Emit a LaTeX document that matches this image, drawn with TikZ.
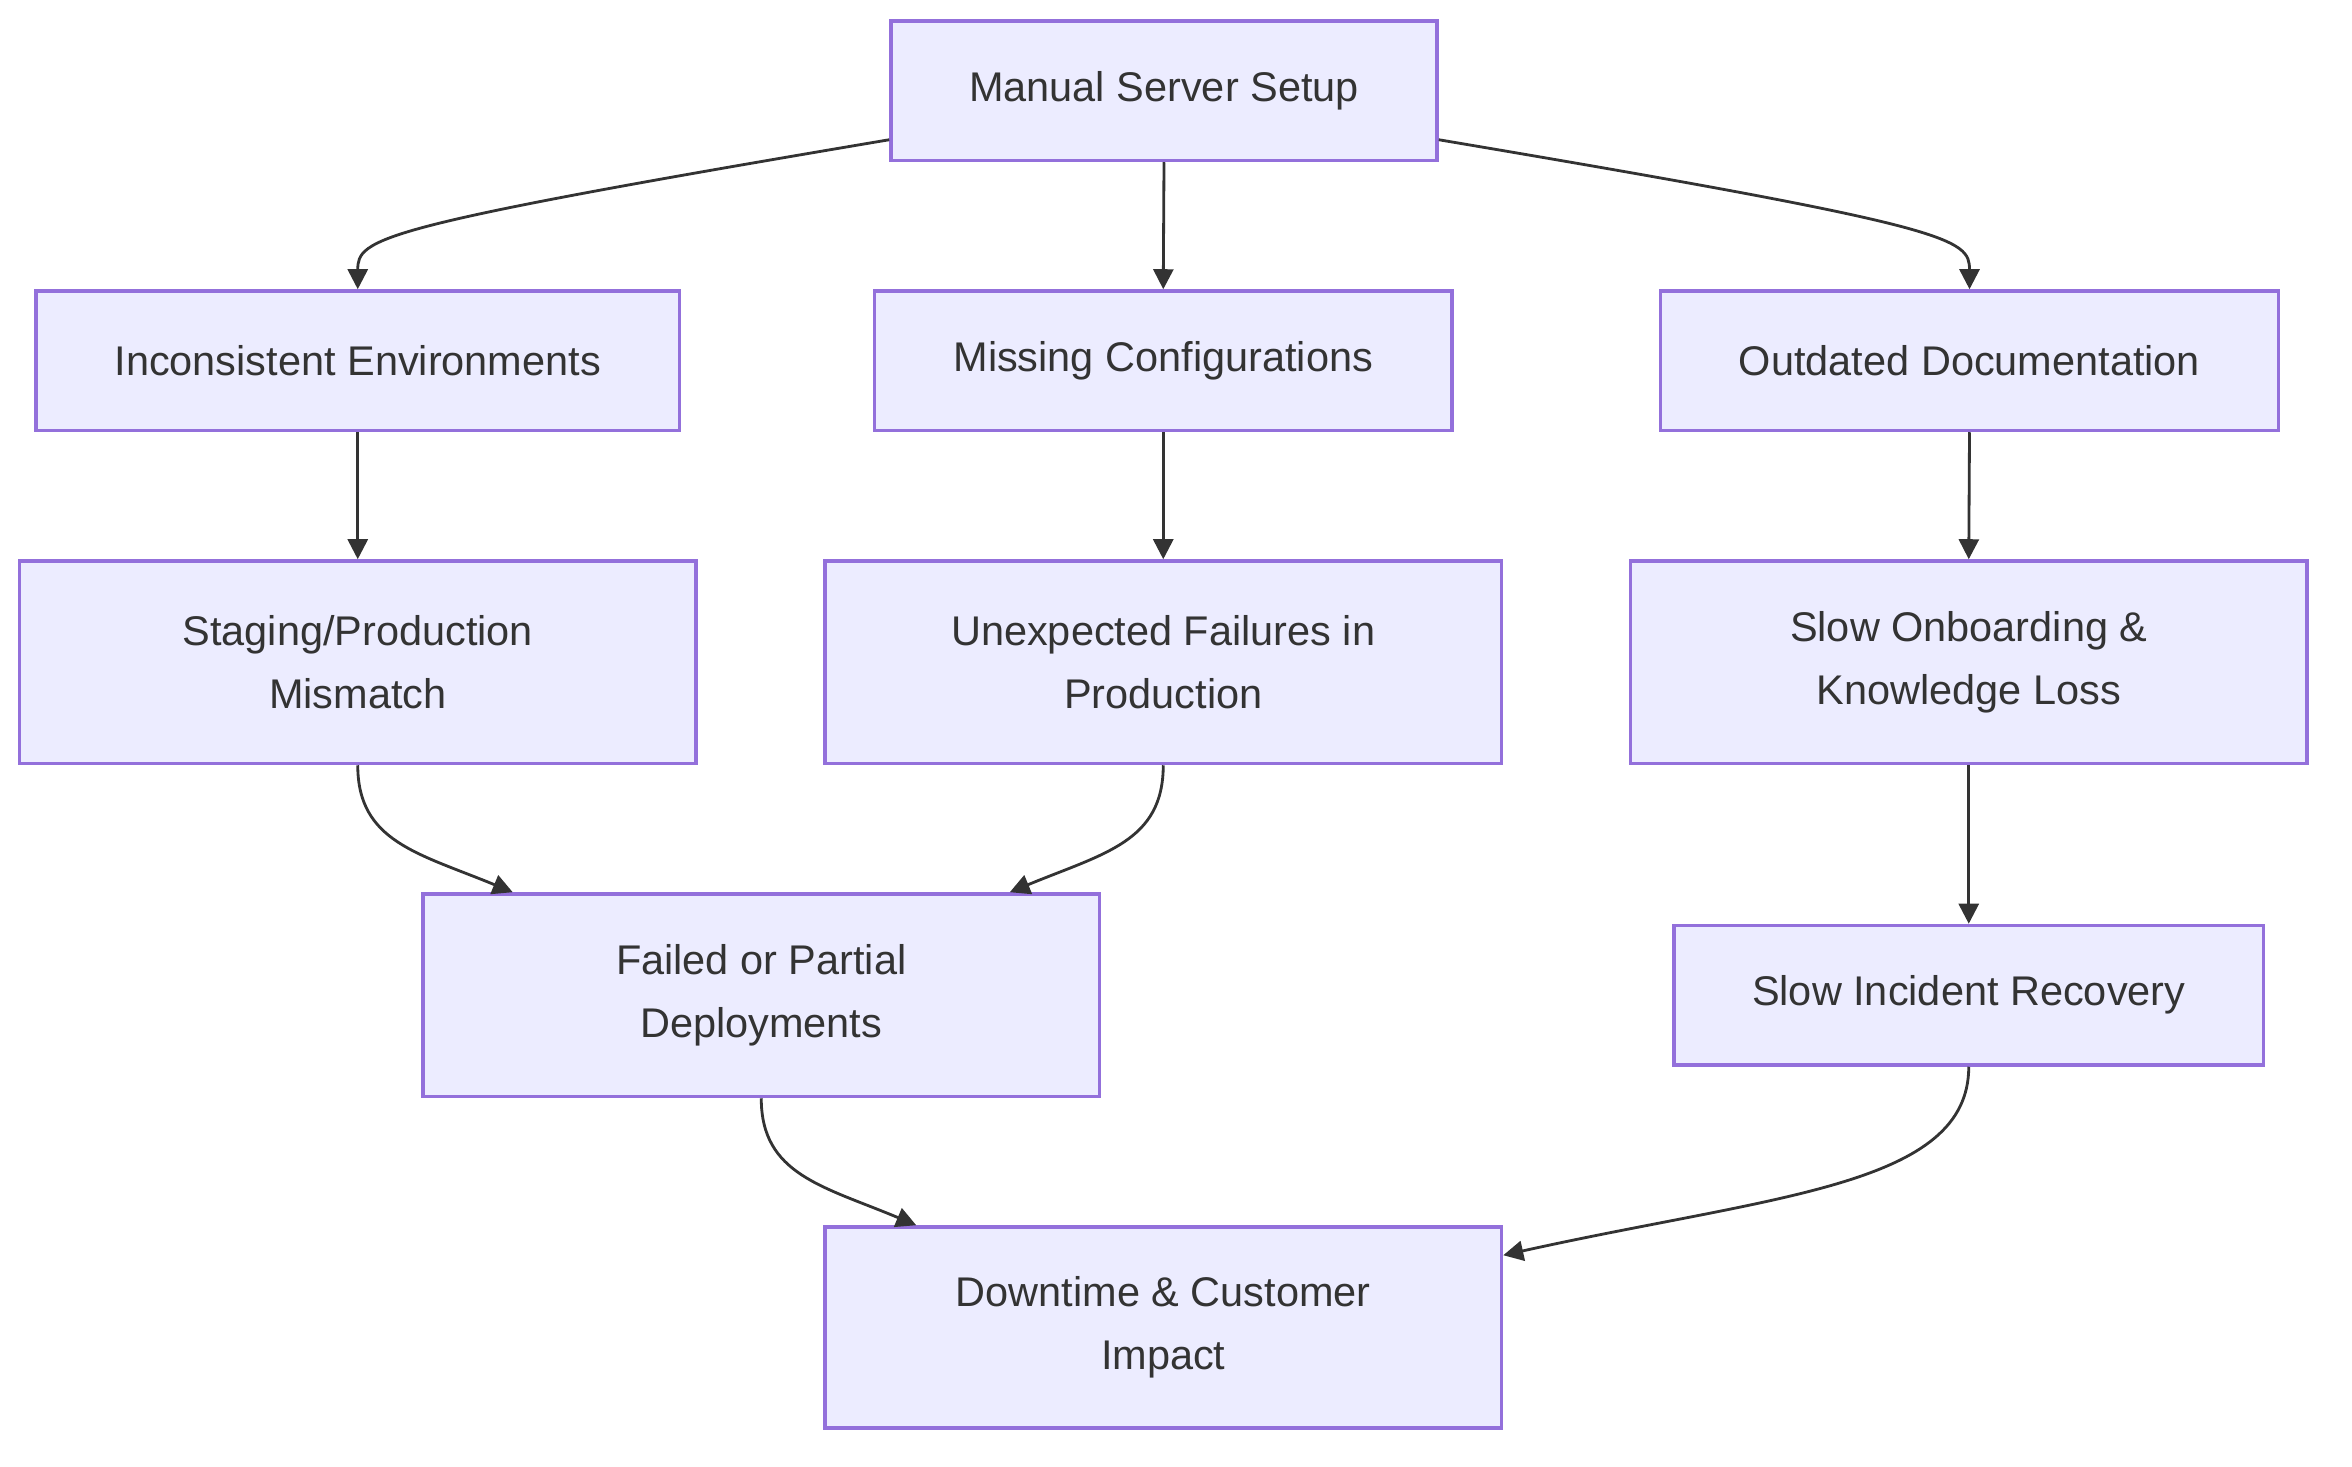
\documentclass[tikz,border=0pt]{standalone}
\usepackage{fontspec}
\setmainfont{Liberation Sans}
\usetikzlibrary{calc}
\usetikzlibrary{arrows.meta}

\definecolor{boxfill}{HTML}{ECECFF}
\definecolor{boxline}{HTML}{9370DB}
\definecolor{ink}{HTML}{333333}

\begin{document}
\begin{tikzpicture}[x=0.015cm, y=-0.015cm,
    box/.style={draw=boxline, fill=boxfill, line width=1pt, rectangle, align=center,
        text=ink, font=\fontsize{11.8}{17.9}\selectfont, inner sep=0pt},
    edge/.style={draw=ink, line width=0.8pt, -{Triangle[length=0.2cm, width=0.2cm]}}]

    \useasboundingbox (0, 0) rectangle (1568, 978);

    \node[box, minimum width=5.46cm, minimum height=1.395cm] (setup) at (776, 60.5) {Manual Server Setup};

    \node[box, minimum width=6.435cm, minimum height=1.395cm] (incons) at (238.5, 240.5) {Inconsistent Environments};
    \node[box, minimum width=5.775cm, minimum height=1.395cm] (missing) at (775.5, 240.5) {Missing Configurations};
    \node[box, minimum width=6.18cm, minimum height=1.395cm] (outdated) at (1313, 240.5) {Outdated Documentation};

    \node[box, minimum width=6.765cm, minimum height=2.025cm] (staging) at (238.5, 441.5) {Staging/Production\\Mismatch};
    \node[box, minimum width=6.765cm, minimum height=2.025cm] (unexp) at (775.5, 441.5) {Unexpected Failures in\\Production};
    \node[box, minimum width=6.765cm, minimum height=2.025cm] (onboard) at (1312.5, 441.5) {Slow Onboarding \&\\Knowledge Loss};

    \node[box, minimum width=6.765cm, minimum height=2.025cm] (failed) at (507.5, 663.5) {Failed or Partial\\Deployments};
    \node[box, minimum width=5.895cm, minimum height=1.395cm] (recovery) at (1312.5, 663.5) {Slow Incident Recovery};

    \node[box, minimum width=6.765cm, minimum height=2.01cm] (downtime) at (775.5, 885) {Downtime \& Customer\\Impact};

    \draw[edge] ([yshift=0.225cm]setup.south west) .. controls +(-344, 58) and +(0, -34) .. (incons.north);
    \draw[edge] (setup.south) -- (missing.north);
    \draw[edge] ([yshift=0.225cm]setup.south east) .. controls +(344, 58) and +(0, -34) .. (outdated.north);

    \draw[edge] (incons.south) -- (staging.north);
    \draw[edge] (missing.south) -- (unexp.north);
    \draw[edge] (outdated.south) -- (onboard.north);

    \draw[edge] (staging.south) .. controls +(0, 51) and +(-63, -26) .. ([xshift=0.915cm]failed.north west);
    \draw[edge] (unexp.south) .. controls +(0, 51) and +(63, -26) .. ([xshift=-0.915cm]failed.north east);
    \draw[edge] (onboard.south) -- (recovery.north);

    \draw[edge] (failed.south) .. controls +(0, 51) and +(-62, -26) .. ([xshift=0.93cm]downtime.north west);
    \draw[edge] (recovery.south) .. controls +(0, 80) and +(180, -40) .. ([yshift=-0.3cm]downtime.north east);

\end{tikzpicture}
\end{document}
